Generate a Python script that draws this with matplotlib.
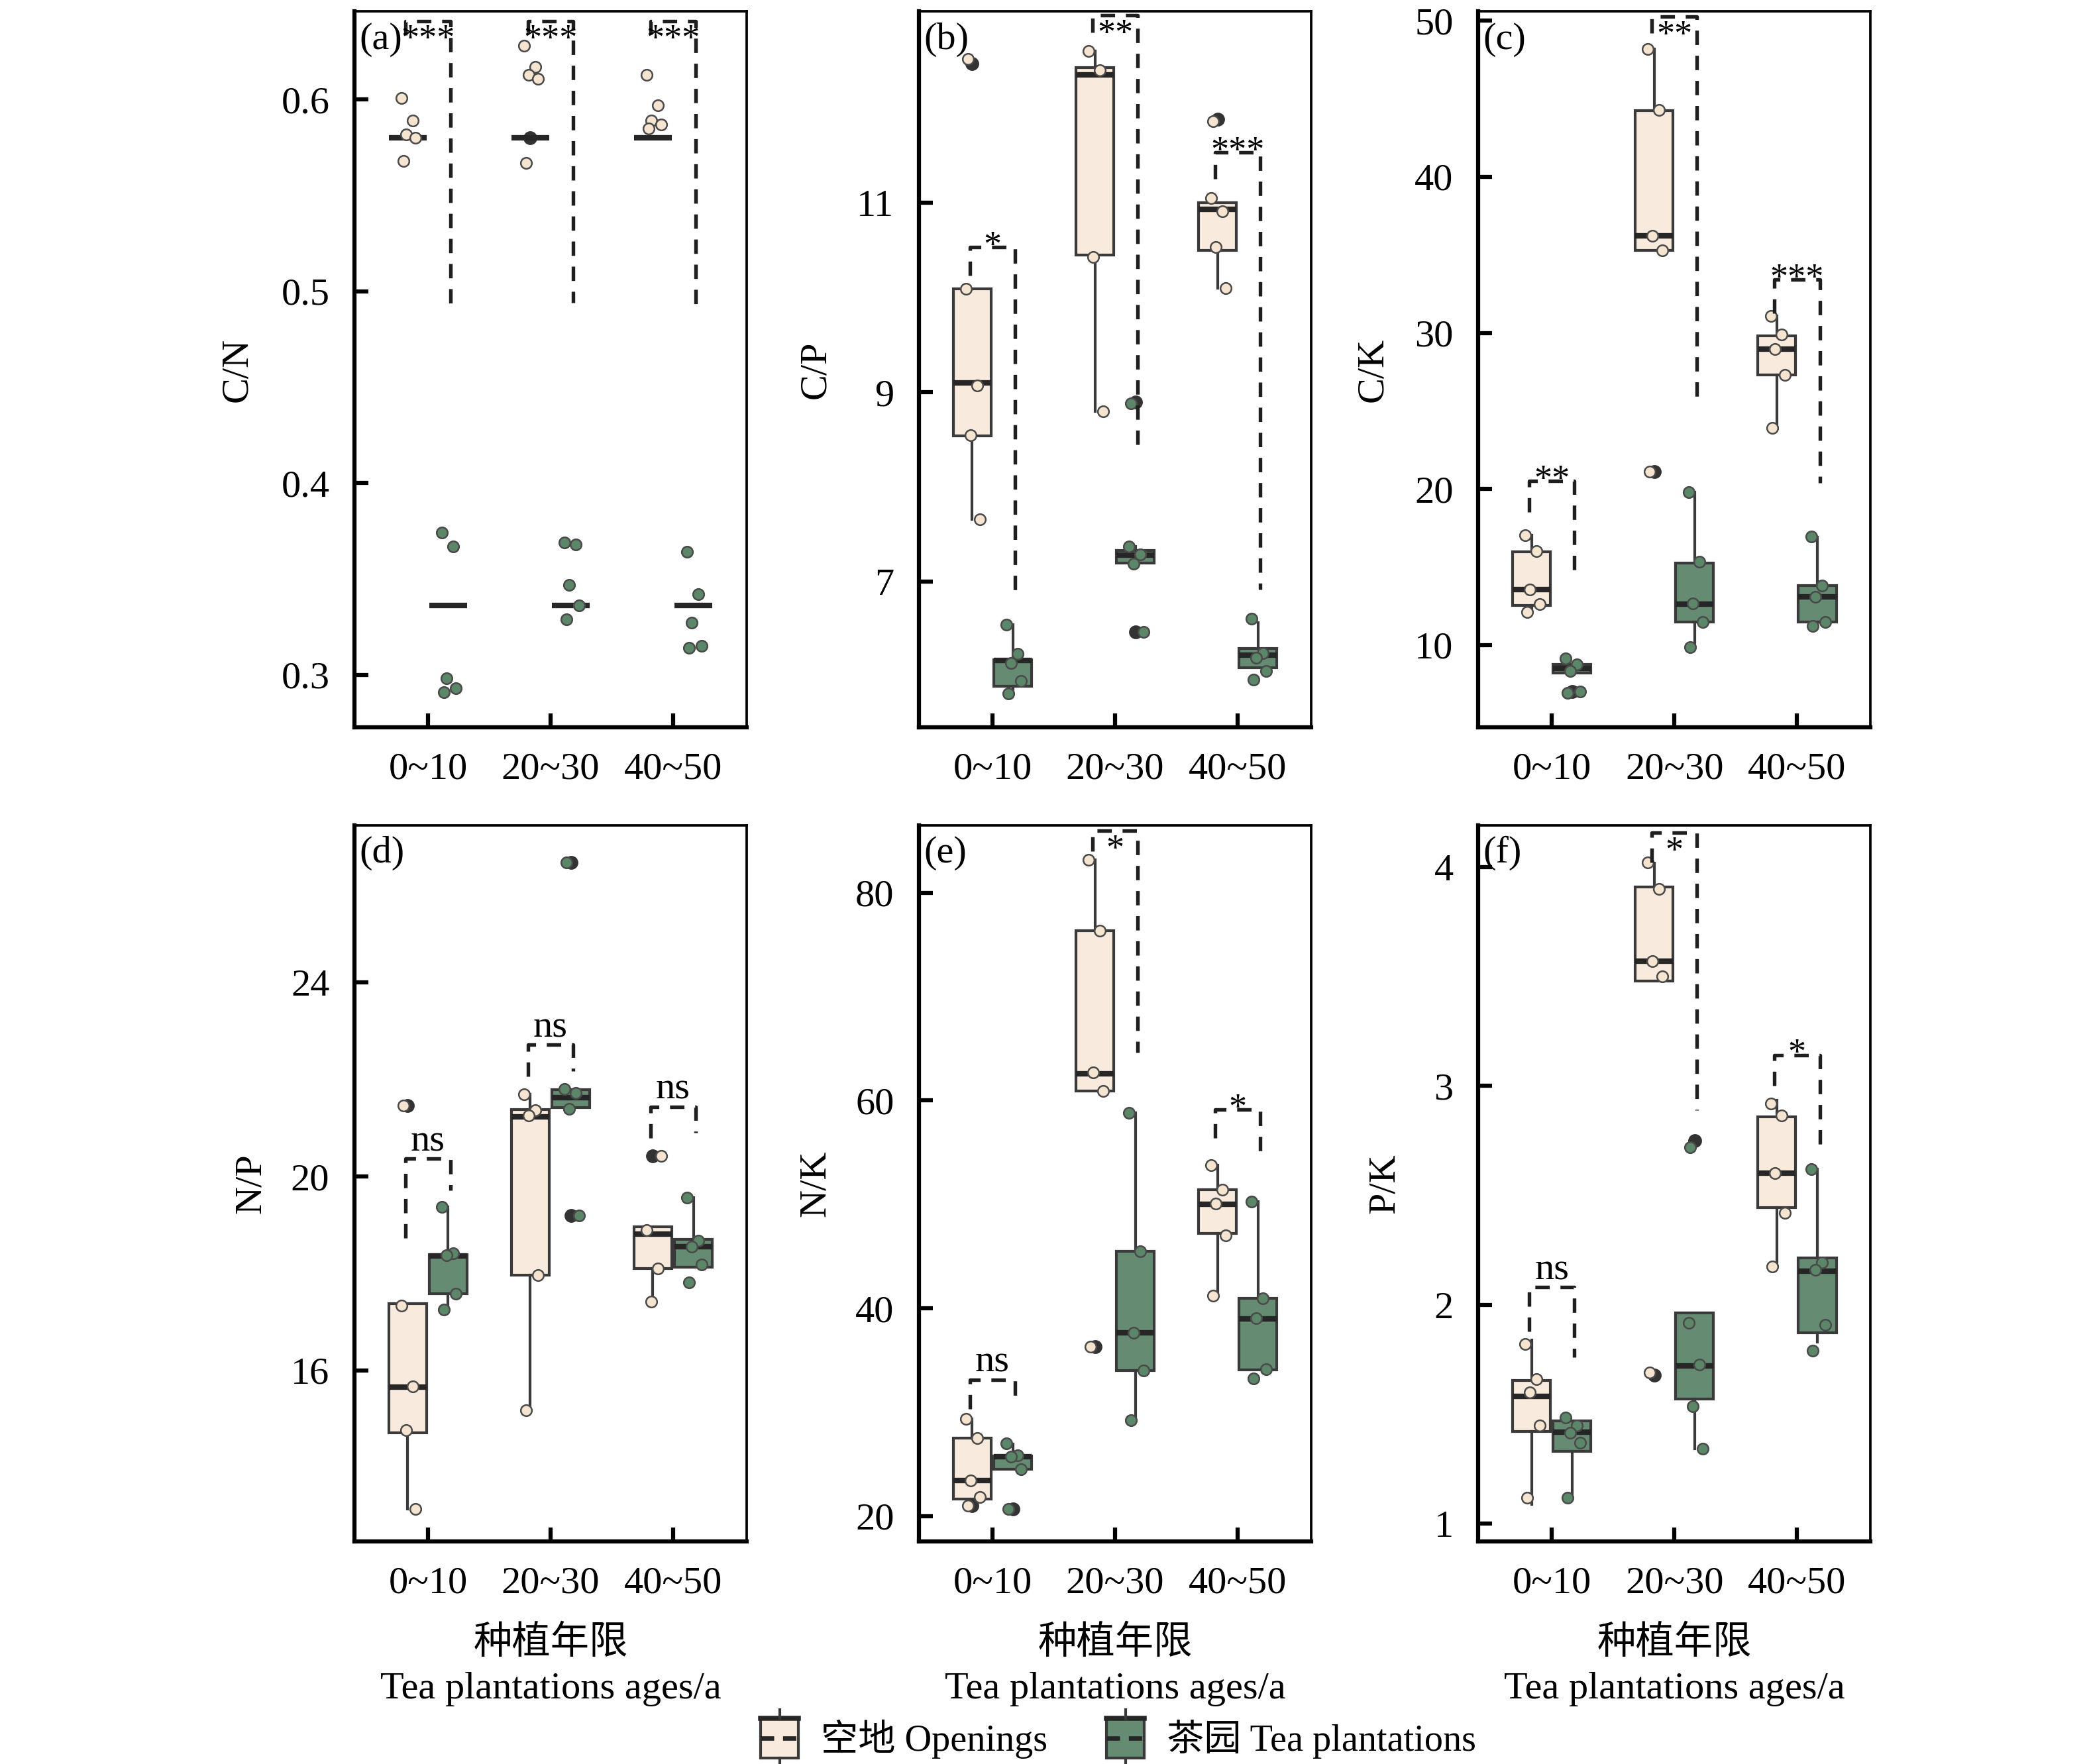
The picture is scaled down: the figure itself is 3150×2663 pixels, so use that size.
import matplotlib
matplotlib.use('Agg')
import matplotlib.pyplot as plt
from matplotlib.legend_handler import HandlerBase
from matplotlib.patches import Rectangle
from matplotlib.lines import Line2D

plt.rcParams['font.family'] = ['Liberation Serif', 'Noto Sans CJK SC']
plt.rcParams['axes.unicode_minus'] = False

AGES = ['0~10', '20~30', '40~50']

# box stats per age: [whislo, q1, med, q3, whishi]
# (a) C/N
cn_open_box = [[0.58, 0.58, 0.58, 0.58, 0.58]] * 3
cn_open_pts = [[0.601, 0.589, 0.582, 0.580, 0.568],
               [0.628, 0.617, 0.613, 0.611, 0.567],
               [0.613, 0.597, 0.589, 0.587, 0.585]]
cn_open_fliers = [[], [0.58], []]
cn_tea_box = [[0.336, 0.336, 0.336, 0.336, 0.336]] * 3
cn_tea_pts = [[0.374, 0.367, 0.298, 0.293, 0.291],
              [0.369, 0.368, 0.347, 0.336, 0.329],
              [0.364, 0.342, 0.327, 0.315, 0.314]]
cn_tea_fliers = [[], [], []]
cn_sig = ['***', '***', '***']

# (b) C/P
cp_open_box = [[7.66, 8.54, 9.10, 10.09, 10.09],
               [8.80, 10.45, 12.35, 12.43, 12.60],
               [10.10, 10.50, 10.93, 11.00, 11.00]]
cp_open_pts = [[10.09, 9.07, 8.55, 7.66, 12.52],
               [12.60, 12.40, 10.43, 8.80],
               [11.05, 10.91, 10.53, 10.10, 11.86]]
cp_open_fliers = [[12.47], [], [11.88]]
cp_tea_box = [[5.82, 5.90, 6.17, 6.18, 6.55],
              [7.20, 7.20, 7.28, 7.33, 7.37],
              [6.09, 6.09, 6.225, 6.294, 6.57]]
cp_tea_pts = [[6.545, 6.24, 6.145, 5.95, 5.82],
              [7.37, 7.29, 7.19, 6.47, 8.88],
              [6.61, 6.25, 6.20, 6.06, 5.97]]
cp_tea_fliers = [[], [8.90, 6.47], []]
cp_sig = ['*', '**', '***']

# (c) C/K
ck_open_box = [[12.04, 12.52, 13.55, 15.98, 17.05],
               [35.3, 35.3, 36.24, 44.25, 48.2],
               [23.9, 27.3, 28.97, 29.8, 31.1]]
ck_open_pts = [[17.05, 16.0, 13.55, 12.6, 12.1],
               [48.2, 44.3, 36.24, 35.3, 21.1],
               [31.1, 29.9, 28.97, 27.3, 23.9]]
ck_open_fliers = [[], [21.1], []]
ck_tea_box = [[8.22, 8.22, 8.48, 8.74, 8.74],
              [9.84, 11.45, 12.62, 15.27, 19.8],
              [11.2, 11.45, 13.1, 13.8, 16.9]]
ck_tea_pts = [[9.13, 8.74, 8.32, 7.03, 6.93],
              [19.8, 15.33, 12.68, 11.45, 9.84],
              [16.95, 13.8, 13.1, 11.45, 11.2]]
ck_tea_fliers = [[7.0], [], []]
ck_sig = ['**', '**', '***']

# (d) N/P
np_open_box = [[13.14, 14.71, 15.65, 17.37, 17.37],
               [15.17, 17.97, 21.23, 21.38, 21.70],
               [17.42, 18.10, 18.81, 18.96, 18.96]]
np_open_pts = [[17.34, 15.67, 14.76, 13.14, 21.46],
               [21.70, 21.37, 21.26, 17.97, 15.17],
               [18.89, 18.10, 17.42, 20.43]]
np_open_fliers = [[21.46], [], [20.43]]
np_tea_box = [[17.26, 17.58, 18.36, 18.39, 19.37],
              [21.42, 21.42, 21.63, 21.79, 21.79],
              [18.13, 18.13, 18.55, 18.70, 19.56]]
np_tea_pts = [[19.37, 18.41, 18.38, 17.58, 17.26],
              [21.80, 21.72, 21.39, 19.20, 26.48],
              [19.56, 18.67, 18.55, 18.18, 17.81]]
np_tea_fliers = [[], [19.20, 26.48], []]
np_sig = ['ns', 'ns', 'ns']

# (e) N/K
nk_open_box = [[21.66, 21.66, 23.41, 27.51, 29.37],
               [60.93, 60.93, 62.59, 76.34, 83.17],
               [41.2, 47.2, 50.0, 51.4, 53.76]]
nk_open_pts = [[29.37, 27.5, 23.41, 21.8, 20.98],
               [83.17, 76.34, 62.68, 60.93, 36.3],
               [53.76, 51.4, 50.1, 47.0, 41.2]]
nk_open_fliers = [[21.0], [36.3], []]
nk_tea_box = [[24.5, 24.5, 25.7, 25.8, 26.9],
              [29.22, 34.0, 37.66, 45.46, 58.78],
              [34.1, 34.1, 39.0, 40.98, 50.24]]
nk_tea_pts = [[27.0, 25.85, 25.7, 24.5, 20.7],
              [58.78, 45.46, 37.66, 34.0, 29.22],
              [50.24, 40.98, 39.02, 34.15, 33.27]]
nk_tea_fliers = [[20.7], [], []]
nk_sig = ['ns', '*', '*']

# (f) P/K
pk_open_box = [[1.09, 1.421, 1.583, 1.654, 1.84],
               [3.479, 3.479, 3.569, 3.908, 4.016],
               [2.18, 2.445, 2.60, 2.857, 2.933]]
pk_open_pts = [[1.82, 1.66, 1.60, 1.45, 1.12],
               [4.02, 3.90, 3.57, 3.50, 1.69],
               [2.92, 2.864, 2.60, 2.42, 2.175]]
pk_open_fliers = [[], [1.68], []]
pk_tea_box = [[1.118, 1.331, 1.42, 1.47, 1.47],
              [1.343, 1.571, 1.72, 1.963, 1.963],
              [1.83, 1.873, 2.155, 2.214, 2.62]]
pk_tea_pts = [[1.486, 1.45, 1.417, 1.37, 1.118],
              [1.919, 1.728, 1.537, 1.343, 2.72],
              [2.62, 2.194, 2.16, 1.91, 1.79]]
pk_tea_fliers = [[], [2.75], []]
pk_sig = ['ns', '*', '*']

# bracket layout per age: (top, left leg end, right leg end, label inside?)
cn_brk = [(0.641, 0.6335, 0.4925, True), (0.641, 0.635, 0.494, True), (0.641, 0.634, 0.4925, True)]
cp_brk = [(10.53, 10.235, 6.84, False), (12.98, 12.80, 8.44, True), (11.53, 11.25, 6.92, False)]
ck_brk = [(20.5, 18.5, 14.36, False), (50.26, 49.2, 25.9, True), (33.4, 31.26, 20.4, False)]
np_brk = [(20.37, 18.73, 19.72, False), (22.72, 22.07, 22.17, False), (21.44, 20.8, 20.9, False)]
nk_brk = [(33.12, 30.34, 30.83, False), (85.95, 84.0, 64.6, True), (59.12, 56.4, 54.2, False)]
pk_brk = [(2.08, 1.88, 1.76, False), (4.155, 4.02, 2.89, True), (3.14, 3.0, 2.70, False)]

OPEN_FACE = '#F8EADD'
OPEN_PT = '#F5E4D0'
TEA_FACE = '#658B73'
TEA_PT = '#5B8668'
EDGE = '#3A3A3A'
MED = '#262626'

JIT = [-0.05, 0.04, -0.015, 0.065, -0.035, 0.02]
OFF = 0.165
BW = 0.31


def stats_of(box, fl):
    lo, q1, med, q3, hi = box
    return dict(whislo=lo, q1=q1, med=med, q3=q3, whishi=hi, fliers=fl)


def draw_group(ax, boxes, pts, fliers, dx, face, ptc):
    pos = [i + dx for i in range(len(AGES))]
    st = [stats_of(b, f) for b, f in zip(boxes, fliers)]
    ax.bxp(st, positions=pos, widths=BW, patch_artist=True, showcaps=False,
           boxprops=dict(facecolor=face, edgecolor=EDGE, linewidth=1.0),
           medianprops=dict(color=MED, linewidth=2.0),
           whiskerprops=dict(color=EDGE, linewidth=1.0),
           flierprops=dict(marker='o', markerfacecolor='#333333', markeredgecolor='#333333',
                           markersize=4.0, linestyle='none'),
           zorder=2)
    for i, vals in enumerate(pts):
        xs = [pos[i] + JIT[k % len(JIT)] for k in range(len(vals))]
        ax.scatter(xs, vals, s=16, color=ptc, edgecolors='#4a4a4a', linewidths=0.6, zorder=4)


def draw_brackets(ax, brk, sig):
    for i, (top, lb, rb, inside) in enumerate(brk):
        x0, x1 = i - 0.185, i + 0.185
        ax.plot([x0, x0, x1, x1], [lb, top, top, rb], color='#1e1e1e', lw=1.3,
                linestyle=(0, (4, 3)), zorder=5, clip_on=False)
        label = sig[i]
        if inside:
            ax.annotate(label, (i, top), xytext=(0, -1), textcoords='offset points',
                        ha='center', va='top', fontsize=13, zorder=6)
        elif label == 'ns':
            ax.annotate(label, (i, top), xytext=(0, 0), textcoords='offset points',
                        ha='center', va='bottom', fontsize=14, zorder=6)
        else:
            ax.annotate(label, (i, top), xytext=(0, -3), textcoords='offset points',
                        ha='center', va='baseline', fontsize=13, zorder=6)


fig = plt.figure(figsize=(10.5, 2663 / 300), dpi=300)

lefts = [0.1698, 0.4403, 0.7083]
bottoms = [0.5875, 0.1262]
W, H = 0.188, 0.406

panels = [
    ('(a)', 'C/N', cn_open_box, cn_open_pts, cn_open_fliers, cn_tea_box, cn_tea_pts, cn_tea_fliers,
     cn_sig, cn_brk, (0.2724, 0.646), [0.3, 0.4, 0.5, 0.6], -0.255),
    ('(b)', 'C/P', cp_open_box, cp_open_pts, cp_open_fliers, cp_tea_box, cp_tea_pts, cp_tea_fliers,
     cp_sig, cp_brk, (5.46, 13.02), [7, 9, 11], -0.22),
    ('(c)', 'C/K', ck_open_box, ck_open_pts, ck_open_fliers, ck_tea_box, ck_tea_pts, ck_tea_fliers,
     ck_sig, ck_brk, (4.7, 50.6), [10, 20, 30, 40, 50], -0.225),
    ('(d)', 'N/P', np_open_box, np_open_pts, np_open_fliers, np_tea_box, np_tea_pts, np_tea_fliers,
     np_sig, np_brk, (12.47, 27.25), [16, 20, 24], -0.22),
    ('(e)', 'N/K', nk_open_box, nk_open_pts, nk_open_fliers, nk_tea_box, nk_tea_pts, nk_tea_fliers,
     nk_sig, nk_brk, (17.56, 86.5), [20, 40, 60, 80], -0.22),
    ('(f)', 'P/K', pk_open_box, pk_open_pts, pk_open_fliers, pk_tea_box, pk_tea_pts, pk_tea_fliers,
     pk_sig, pk_brk, (0.92, 4.19), [1, 2, 3, 4], -0.195),
]

for n, p in enumerate(panels):
    (tag, ylab, ob, op, of, tb, tp, tf, sig, brk, ylim, yt, lx) = p
    ax = fig.add_axes([lefts[n % 3], bottoms[n // 3], W, H])
    draw_group(ax, ob, op, of, -OFF, OPEN_FACE, OPEN_PT)
    draw_group(ax, tb, tp, tf, OFF, TEA_FACE, TEA_PT)
    draw_brackets(ax, brk, sig)
    ax.set_xlim(-0.6, 2.6)
    ax.set_ylim(*ylim)
    ax.set_xticks(range(len(AGES)))
    ax.set_xticklabels(AGES)
    ax.set_yticks(yt)
    ax.set_yticklabels([str(v) for v in yt])
    ax.tick_params(direction='in', length=5, width=1.5, labelsize=14, pad=9,
                   top=False, right=False)
    for s in ['left', 'bottom']:
        ax.spines[s].set_linewidth(1.5)
    for s in ['right', 'top']:
        ax.spines[s].set_linewidth(0.9)
    ax.set_ylabel(ylab, fontsize=14)
    ax.yaxis.set_label_coords(lx, 0.5)
    ax.text(0.012, 0.985, tag, transform=ax.transAxes, ha='left', va='top', fontsize=14)
    if n >= 3:
        ax.set_xlabel('种植年限\nTea plantations ages/a', fontsize=14, labelpad=9,
                      linespacing=1.4, fontweight='light')


class BoxHandle(HandlerBase):
    def __init__(self, face):
        super().__init__()
        self.face = face

    def create_artists(self, legend, orig_handle, xdescent, ydescent, width, height,
                       fontsize, trans):
        x0, y0 = -xdescent, -ydescent
        bw = width * 0.85
        bx = x0 + (width - bw) / 2
        cx = x0 + width / 2
        rect = Rectangle((bx, y0 - 0.1 * height), bw, height * 1.2, facecolor=self.face,
                         edgecolor=EDGE, lw=1.0, transform=trans)
        top = Line2D([bx, bx + bw], [y0 + 1.1 * height] * 2, color=MED, lw=1.8, transform=trans)
        mid = Line2D([bx, bx + bw], [y0 + height / 2] * 2, color=MED, lw=1.6,
                     linestyle=(0, (3, 2)), transform=trans)
        w1 = Line2D([cx, cx], [y0 + 1.1 * height, y0 + 1.35 * height], color=EDGE, lw=1.0,
                    transform=trans)
        w2 = Line2D([cx, cx], [y0 - 0.1 * height, y0 - 0.35 * height], color=EDGE, lw=1.0,
                    transform=trans)
        return [rect, top, mid, w1, w2]


h_open = Rectangle((0, 0), 1, 1)
h_tea = Rectangle((0, 0), 1, 1)
fig.legend([h_open, h_tea], ['空地 Openings', '茶园 Tea plantations'],
           handler_map={h_open: BoxHandle(OPEN_FACE), h_tea: BoxHandle(TEA_FACE)},
           loc='center', bbox_to_anchor=(0.535, 0.014), ncol=2, frameon=False,
           prop={'size': 13.5, 'weight': 'light'}, handlelength=1.2, handleheight=1.0,
           columnspacing=1.5, handletextpad=0.5)

fig.savefig('out.png', dpi=300, facecolor='white')
